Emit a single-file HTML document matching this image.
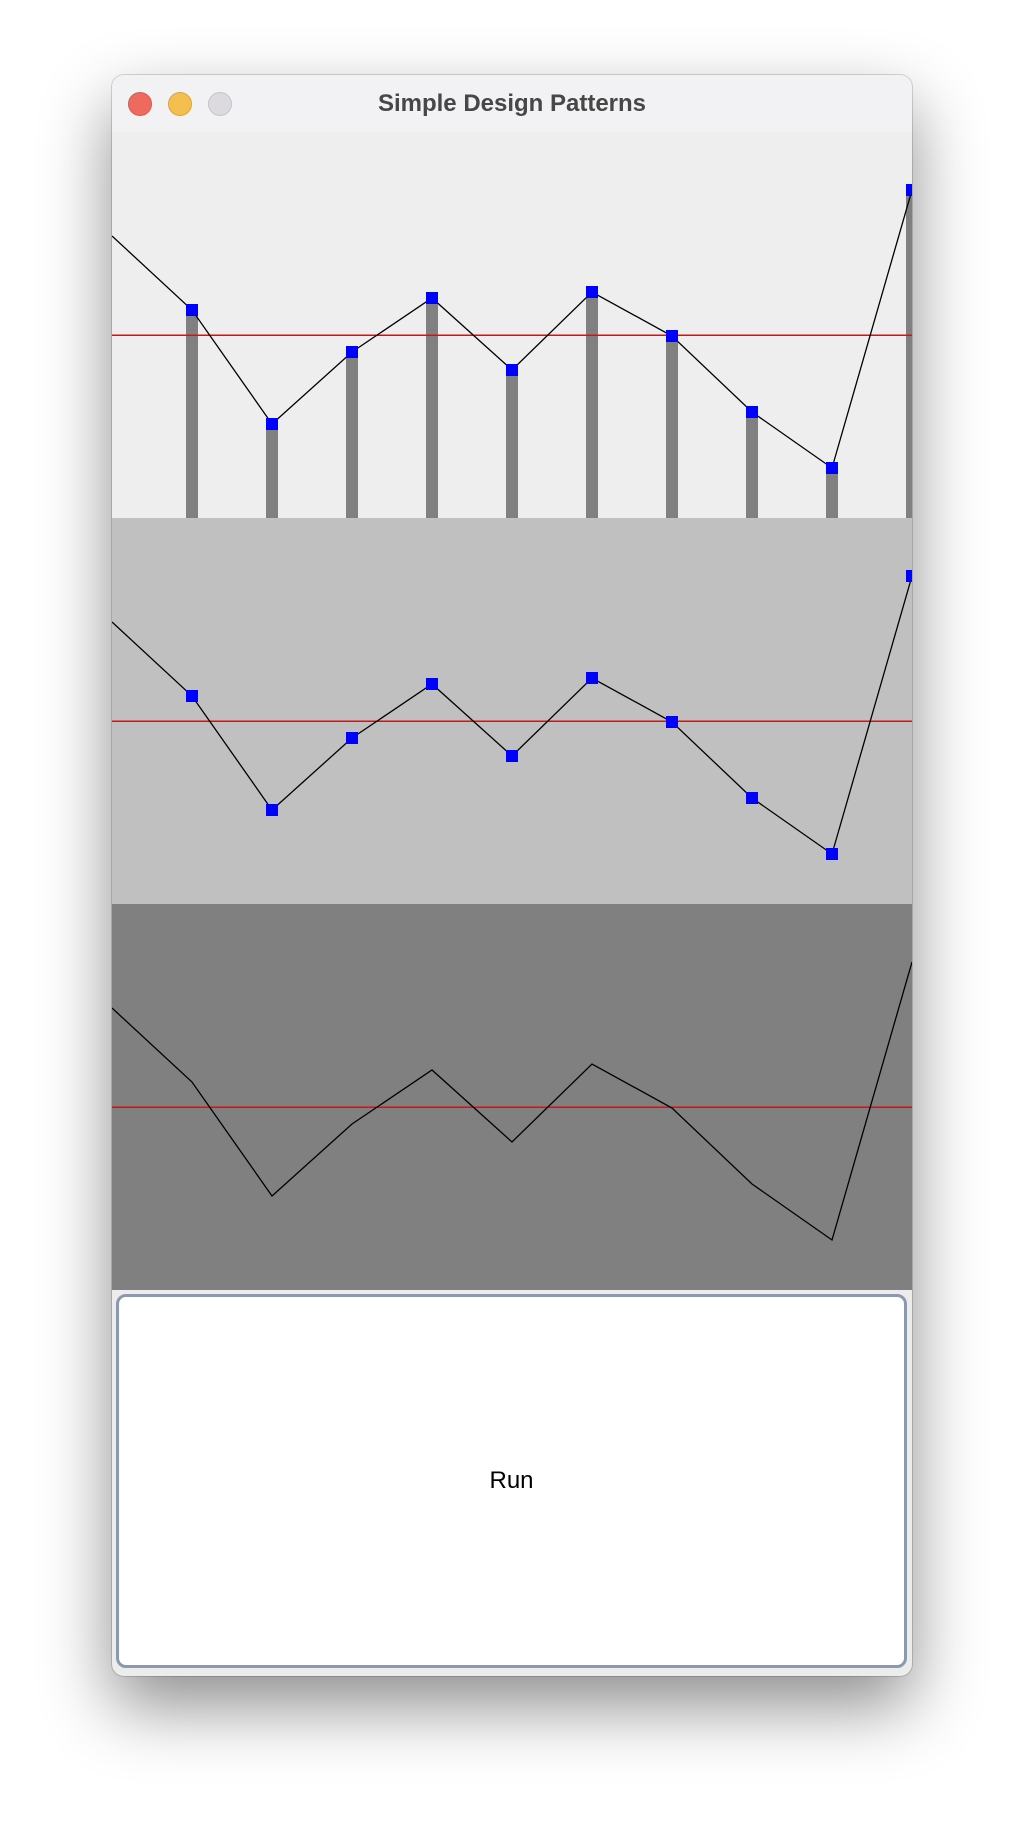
<!DOCTYPE html>
<html><head><meta charset="utf-8">
<style>
html,body{margin:0;padding:0;background:#fff;width:1024px;height:1824px;overflow:hidden;}
#win{position:absolute;left:112px;top:75px;width:800px;height:1601px;border-radius:12px;background:#ececec;overflow:hidden;box-shadow:0 30px 70px rgba(0,0,0,0.45),0 0 0 1px rgba(0,0,0,0.15);}
#titlebar{position:absolute;left:0;top:0;width:800px;height:57px;background:#f2f1f4;border-bottom:1px solid #d0d0d0;}
#title{position:absolute;left:0;top:0;width:800px;line-height:57px;text-align:center;font-family:"Liberation Sans",sans-serif;font-weight:bold;font-size:24px;color:#474747;}
.light{position:absolute;top:17px;width:24px;height:24px;border-radius:50%;box-sizing:border-box;}
#charts{position:absolute;left:0;top:57px;}
#run{position:absolute;left:4px;top:1219px;width:791px;height:374px;box-sizing:border-box;border:3px solid #8a99ae;border-radius:10px;background:#fff;font-family:"Liberation Sans",sans-serif;font-size:24px;color:#000;display:flex;align-items:center;justify-content:center;}
</style></head><body>
<div id="win">
  <div id="titlebar">
    <div class="light" style="left:16px;background:#ee6a5f;border:1px solid #d55a50"></div>
    <div class="light" style="left:56px;background:#f5bf4f;border:1px solid #d9a53c"></div>
    <div class="light" style="left:96px;background:#dcdadf;border:1px solid #c6c4c9"></div>
    <div id="title">Simple Design Patterns</div>
  </div>
  <svg id="charts" width="800" height="1158"></svg>
  <div id="run">Run</div>
</div>
<script>
const pointIndex = [0,1,2,3,4,5,6,7,8,9,10];
const values = [282,208,94,166,220,148,226,182,106,50,328];
const panelFills = ["#eeeeee","#c0c0c0","#808080"];
const panelHasBars = [true,false,false];
const panelHasMarkers = [true,true,false];

const NS="http://www.w3.org/2000/svg";
const svg=document.getElementById('charts');
const W=800,H=386,STEP=80;
const xScale=i=>i*STEP;
const yScale=v=>H-v;
const avg=values.reduce((a,b)=>a+b,0)/values.length;
function mk(tag,attrs){const e=document.createElementNS(NS,tag);for(const k in attrs)e.setAttribute(k,attrs[k]);return e;}
panelFills.forEach((fill,p)=>{
  const g=mk('g',{transform:'translate(0,'+(p*H)+')'});
  
  
  const bg=mk('rect',{x:0,y:0,width:W,height:H,fill:fill});
  
  
  g.appendChild(bg);
  if(panelHasBars[p]){
    pointIndex.forEach(i=>{
      if(i===0)return;
      const b=mk('rect',{x:xScale(i)-6,y:yScale(values[i]),width:12,height:H-yScale(values[i]),fill:'#808080'});
      
      
      g.appendChild(b);
    });
  }
  const ay=yScale(avg);
  const r=mk('line',{x1:0,x2:W,y1:ay,y2:ay,stroke:'#ff0000','stroke-width':1.5});
  
  
  g.appendChild(r);
  const pl=mk('polyline',{points:pointIndex.map(i=>xScale(i)+','+yScale(values[i])).join(' '),fill:'none',stroke:'#000','stroke-width':1.3});
  
  
  g.appendChild(pl);
  if(panelHasMarkers[p]){
    pointIndex.forEach(i=>{
      if(i===0)return;
      const m=mk('rect',{x:xScale(i)-6,y:yScale(values[i])-6,width:12,height:12,fill:'#0000ff'});
      
      
      g.appendChild(m);
    });
  }
  svg.appendChild(g);
});
</script>
</body></html>
